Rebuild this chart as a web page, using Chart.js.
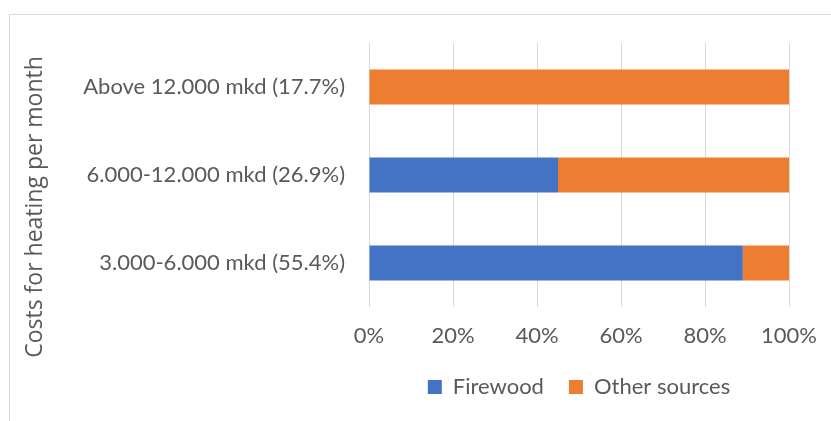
<!DOCTYPE html>
<html>
<head>
<meta charset="utf-8">
<script src="https://cdn.jsdelivr.net/npm/chart.js@4"></script>
<style>
  html, body { margin: 0; padding: 0; background: #fff; overflow: hidden; }
  #frame { position: absolute; left: 9px; top: 14px; width: 900px; height: 500px; border: 1px solid #d9d9d9; }
  #wrap { position: absolute; left: 0; top: 0; width: 831px; height: 421px; }
</style>
</head>
<body>
<div id="frame"></div>
<div id="wrap"><canvas id="chart" width="831" height="421"></canvas></div>
<script>
// categories, top to bottom
const categories = ['Above 12.000 mkd (17.7%)', '6.000-12.000 mkd (26.9%)', '3.000-6.000 mkd (55.4%)'];
// share of households (%)
const firewood = [0, 45, 89];
const otherSources = [100, 55, 11];
const xTicks = [0, 20, 40, 60, 80, 100];
const axisTitle = 'Costs for heating per month';

const textColor = '#595959';
const fontFamily = 'Lato, "Open Sans", sans-serif';

// draws the rotated axis title, centred like the original
const sideTitle = {
	id: 'sideTitle',
	afterDraw(chart) {
		const ctx = chart.ctx;
		ctx.save();
		ctx.translate(35, 207);
		ctx.rotate(-Math.PI / 2);
		ctx.fillStyle = textColor;
		ctx.font = '23px "Open Sans", sans-serif';
		ctx.textAlign = 'center';
		ctx.textBaseline = 'middle';
		ctx.fillText(axisTitle, 0, 0);
		ctx.restore();
	},
};

new Chart(document.getElementById('chart'), {
	type: 'bar',
	plugins: [sideTitle],
	data: {
		labels: categories,
		datasets: [
			{ label: 'Firewood', data: firewood, backgroundColor: '#4472C4', categoryPercentage: 0.8, barPercentage: 0.5 },
			{ label: 'Other sources', data: otherSources, backgroundColor: '#ED7D31', categoryPercentage: 0.8, barPercentage: 0.5 },
		],
	},
	options: {
		indexAxis: 'y',
		responsive: false,
		animation: false,
		layout: { padding: { left: 60, right: 42, top: 43, bottom: 15 } },
		scales: {
			x: {
				stacked: true,
				min: 0,
				max: 100,
				afterBuildTicks: scale => { scale.ticks = xTicks.map(v => ({ value: v })); },
				afterFit: scale => { scale.height = 44; },
				grid: { color: '#d9d9d9', drawTicks: true, tickLength: 14, tickColor: 'rgba(0,0,0,0)', lineWidth: 1 },
				border: { display: false },
				ticks: { color: textColor, font: { family: fontFamily, size: 22 }, padding: 2, callback: v => v + '%' },
			},
			y: {
				stacked: true,
				afterFit: scale => { scale.width = 309; },
				grid: { display: false },
				border: { display: false },
				ticks: { color: textColor, font: { family: fontFamily, size: 22 }, padding: 16 },
			},
		},
		plugins: {
			tooltip: { enabled: false },
			legend: {
				position: 'bottom',
				fullSize: false,
				maxHeight: 55,
				labels: { color: textColor, font: { family: fontFamily, size: 22 }, boxWidth: 14, boxHeight: 14, padding: 25 },
			},
		},
	},
});
</script>
</body>
</html>
